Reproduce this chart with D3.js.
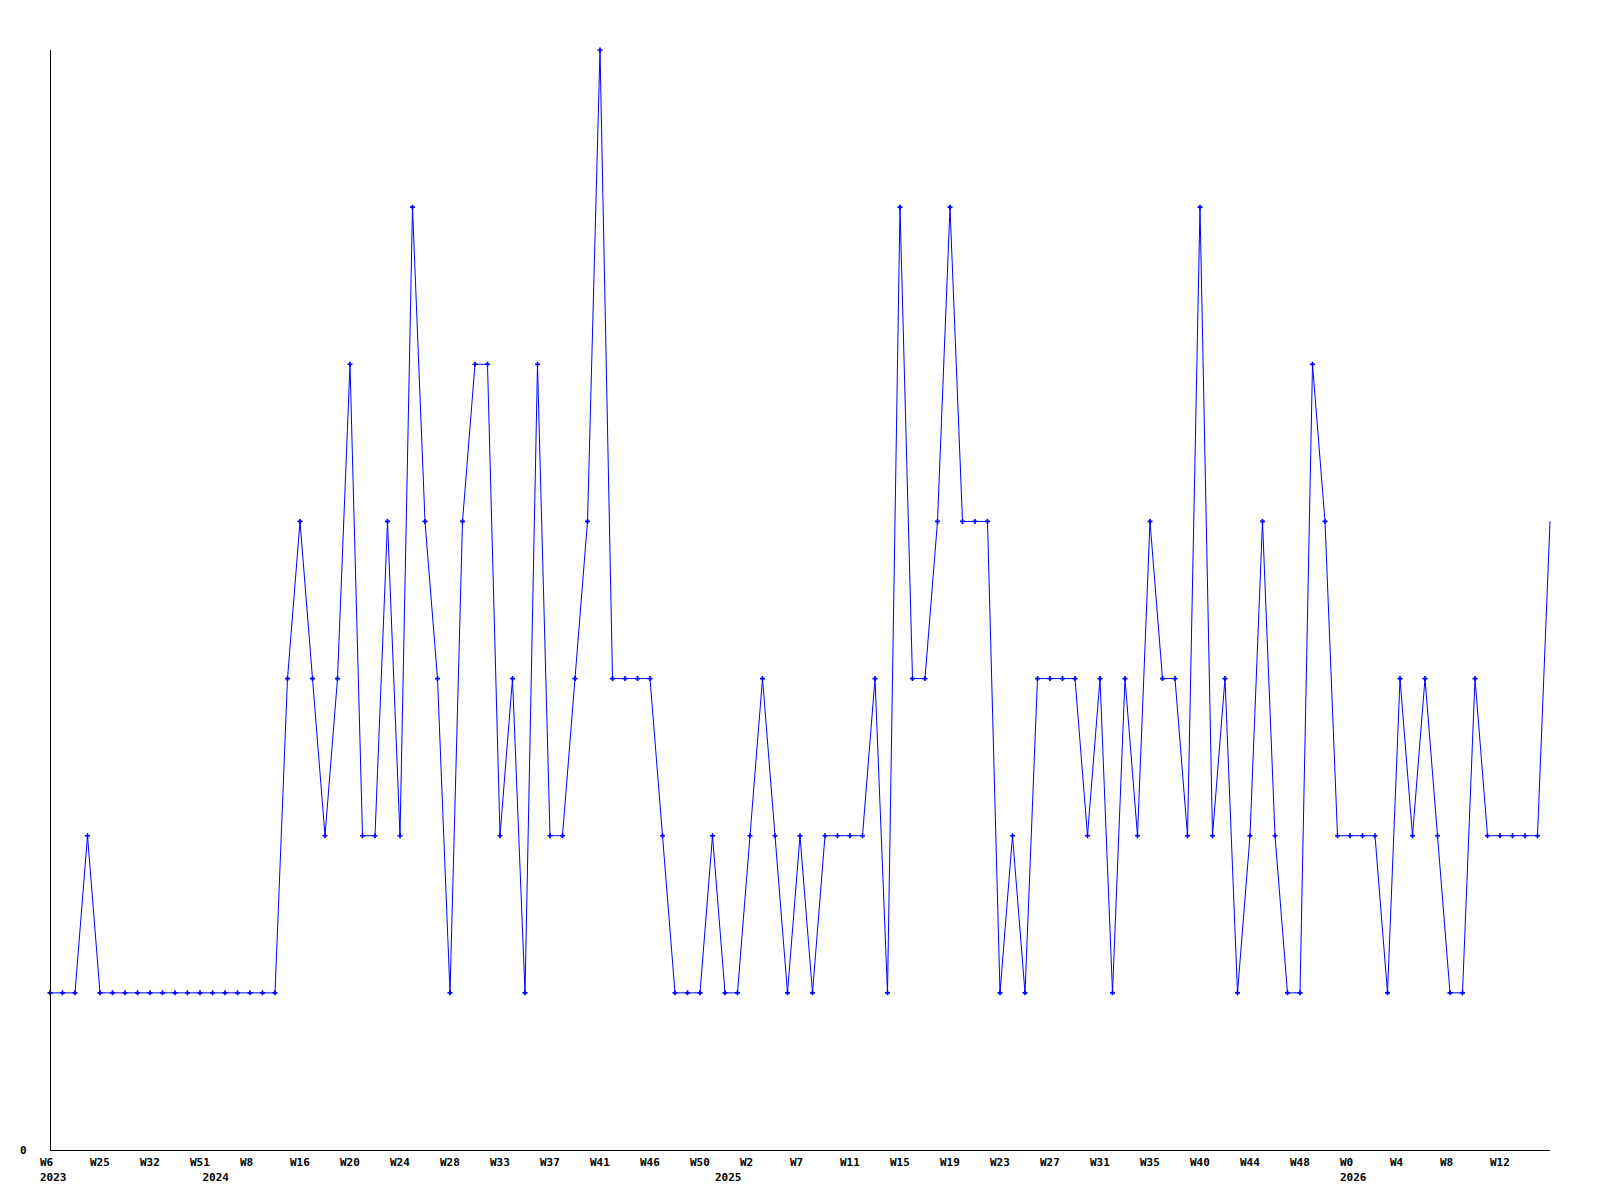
<!DOCTYPE html>
<html>
<head>
<meta charset="utf-8">
<script src="https://cdn.jsdelivr.net/npm/d3@7"></script>
<style>
    body { margin: 0; background: #fff; }
    .tick-label { font-family: "DejaVu Sans Mono", monospace; font-weight: bold; font-size: 11px; fill: #000; }
</style>
</head>
<body>
<div id="chart"></div>
<script>
// weekly counts, one per point
const values = [
    1, 1, 1, 2, 1, 1, 1, 1, 1, 1, 1, 1, 1, 1, 1, 1, 1, 1, 1,
    3, 4, 3, 2, 3, 5, 2, 2, 4, 2, 6, 4, 3, 1, 4, 5, 5, 2, 3, 1, 5,
    2, 2, 3, 4, 7, 3, 3, 3, 3, 2, 1, 1, 1, 2, 1, 1, 2, 3, 2, 1,
    2, 1, 2, 2, 2, 2, 3, 1, 6, 3, 3, 4, 6, 4, 4, 4, 1, 2, 1, 3,
    3, 3, 3, 2, 3, 1, 3, 2, 4, 3, 3, 2, 6, 2, 3, 1, 2, 4, 2, 1,
    1, 5, 4, 2, 2, 2, 2, 1, 3, 2, 3, 2, 1, 1, 3, 2, 2, 2, 2, 2, 4
];

// week labels, every 4th point
const weekLabels = [
    "W6", "W25", "W32", "W51", "W8", "W16", "W20", "W24", "W28", "W33",
    "W37", "W41", "W46", "W50", "W2", "W7", "W11", "W15", "W19", "W23",
    "W27", "W31", "W35", "W40", "W44", "W48", "W0", "W4", "W8", "W12"
];
const labelStep = 4;

// year labels and the point index where the year starts
const yearLabels = ["2023", "2024", "2025", "2026"];
const yearIndex = [0, 13, 54, 104];

const width = 1600;
const height = 1200;
const margin = {left: 50, right: 50, top: 50, bottom: 50};

const svg = d3.select("#chart")
    .append("svg")
    .attr("width", width)
    .attr("height", height);

const x = d3.scaleLinear()
    .domain([0, values.length - 1])
    .range([margin.left, width - margin.right]);

const y = d3.scaleLinear()
    .domain([0, 7])
    .range([height - margin.bottom, margin.top]);

const line = d3.line()
    .x((d, i) => x(i))
    .y(d => y(d));

svg.append("path")
    .datum(values)
    .attr("fill", "none")
    .attr("stroke", "#0000ff")
    .attr("stroke-width", 1)
    .attr("d", line);

// last point sits on the right edge and shows no marker
svg.append("g")
    .selectAll("path")
    .data(values.slice(0, -1))
    .enter().append("path")
    .attr("transform", (d, i) => `translate(${x(i)},${y(d)})`)
    .attr("fill", "#0000ff")
    .attr("d", d3.symbol(d3.symbolCross).size(14));

// axes
svg.append("line")
    .attr("x1", x(0)).attr("x2", x(0))
    .attr("y1", y(7)).attr("y2", y(0))
    .attr("stroke", "#000")
    .attr("shape-rendering", "crispEdges");

svg.append("line")
    .attr("x1", x(0)).attr("x2", x(values.length - 1))
    .attr("y1", y(0)).attr("y2", y(0))
    .attr("stroke", "#000")
    .attr("shape-rendering", "crispEdges");

svg.append("text")
    .attr("class", "tick-label")
    .attr("x", 20)
    .attr("y", y(0) + 4)
    .text("0");

svg.append("g")
    .selectAll("text")
    .data(weekLabels)
    .enter().append("text")
    .attr("class", "tick-label")
    .attr("x", (d, i) => x(i * labelStep) - 10)
    .attr("y", y(0) + 16)
    .text(d => d);

svg.append("g")
    .selectAll("text")
    .data(yearLabels)
    .enter().append("text")
    .attr("class", "tick-label")
    .attr("x", (d, i) => x(yearIndex[i]) - 10)
    .attr("y", y(0) + 31)
    .text(d => d);
</script>
</body>
</html>
